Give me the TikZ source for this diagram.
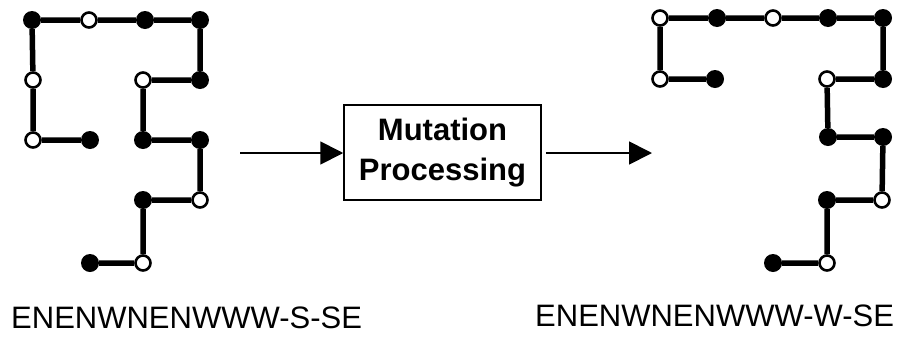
\documentclass[tikz,border=0pt]{standalone}
\usepackage{fontspec}
\setmainfont{Liberation Sans}
\usetikzlibrary{arrows.meta}
\begin{document}
\begin{tikzpicture}[x=1pt,y=-1pt,
  hf/.style={circle,fill=black,inner sep=0pt,minimum size=18pt},
  pw/.style={circle,draw=black,fill=white,line width=2.6pt,inner sep=0pt,minimum size=15pt},
  bond/.style={line width=5.5pt},
  flow/.style={line width=1.8pt,-{Triangle[length=23pt,width=23pt]}},
  procbox/.style={draw=black,line width=1.5pt,minimum width=197pt,minimum height=95pt,align=center,font=\bfseries\fontsize{31}{40}\selectfont},
  seqlabel/.style={anchor=west,inner sep=0pt,font=\fontsize{31}{36}\selectfont}]
\useasboundingbox (0,0) rectangle (906,338);
% left conformation
\node[hf] (L1) at (90,263) {};
\node[pw] (L2) at (143,263) {};
\node[hf] (L3) at (143,200) {};
\node[pw] (L4) at (200,200) {};
\node[hf] (L5) at (200,140) {};
\node[hf] (L6) at (143,140) {};
\node[pw] (L7) at (143,80) {};
\node[hf] (L8) at (200,80) {};
\node[hf] (L9) at (200,20) {};
\node[hf] (L10) at (145,20) {};
\node[pw] (L11) at (89,20) {};
\node[hf] (L12) at (32,20) {};
\node[pw] (L13) at (33,80) {};
\node[pw] (L14) at (33,140) {};
\node[hf] (L15) at (90,140) {};
\draw[bond] (L1)--(L2)--(L3)--(L4)--(L5)--(L6)--(L7)--(L8)--(L9)--(L10)--(L11)--(L12)--(L13)--(L14)--(L15);
% right conformation
\node[hf] (R1) at (773,263) {};
\node[pw] (R2) at (827,263) {};
\node[hf] (R3) at (827,200) {};
\node[pw] (R4) at (882,200) {};
\node[hf] (R5) at (883,137) {};
\node[hf] (R6) at (828,137) {};
\node[pw] (R7) at (827,79) {};
\node[hf] (R8) at (883,79) {};
\node[hf] (R9) at (883,18) {};
\node[hf] (R10) at (828,18) {};
\node[pw] (R11) at (773,18) {};
\node[hf] (R12) at (717,18) {};
\node[pw] (R13) at (660,18) {};
\node[pw] (R14) at (660,79) {};
\node[hf] (R15) at (715,79) {};
\draw[bond] (R1)--(R2)--(R3)--(R4)--(R5)--(R6)--(R7)--(R8)--(R9)--(R10)--(R11)--(R12)--(R13)--(R14)--(R15);
% box and arrows
\node[procbox] (box) at (442.5,152.5) {Mutation\\Processing};
\coordinate (a0) at (240,153);
\coordinate (a1) at (652,153);
\draw[flow] (a0) -- (a0 -| box.west);
\draw[flow,shorten <=4pt] (box.east |- a1) -- (a1);
% labels
\node[seqlabel] (s1) at (11,318) {ENENWNENWWW-S-SE};
\node[seqlabel] (s2) at (535,316) {ENENWNENWWW-W-SE};
\end{tikzpicture}
\end{document}
